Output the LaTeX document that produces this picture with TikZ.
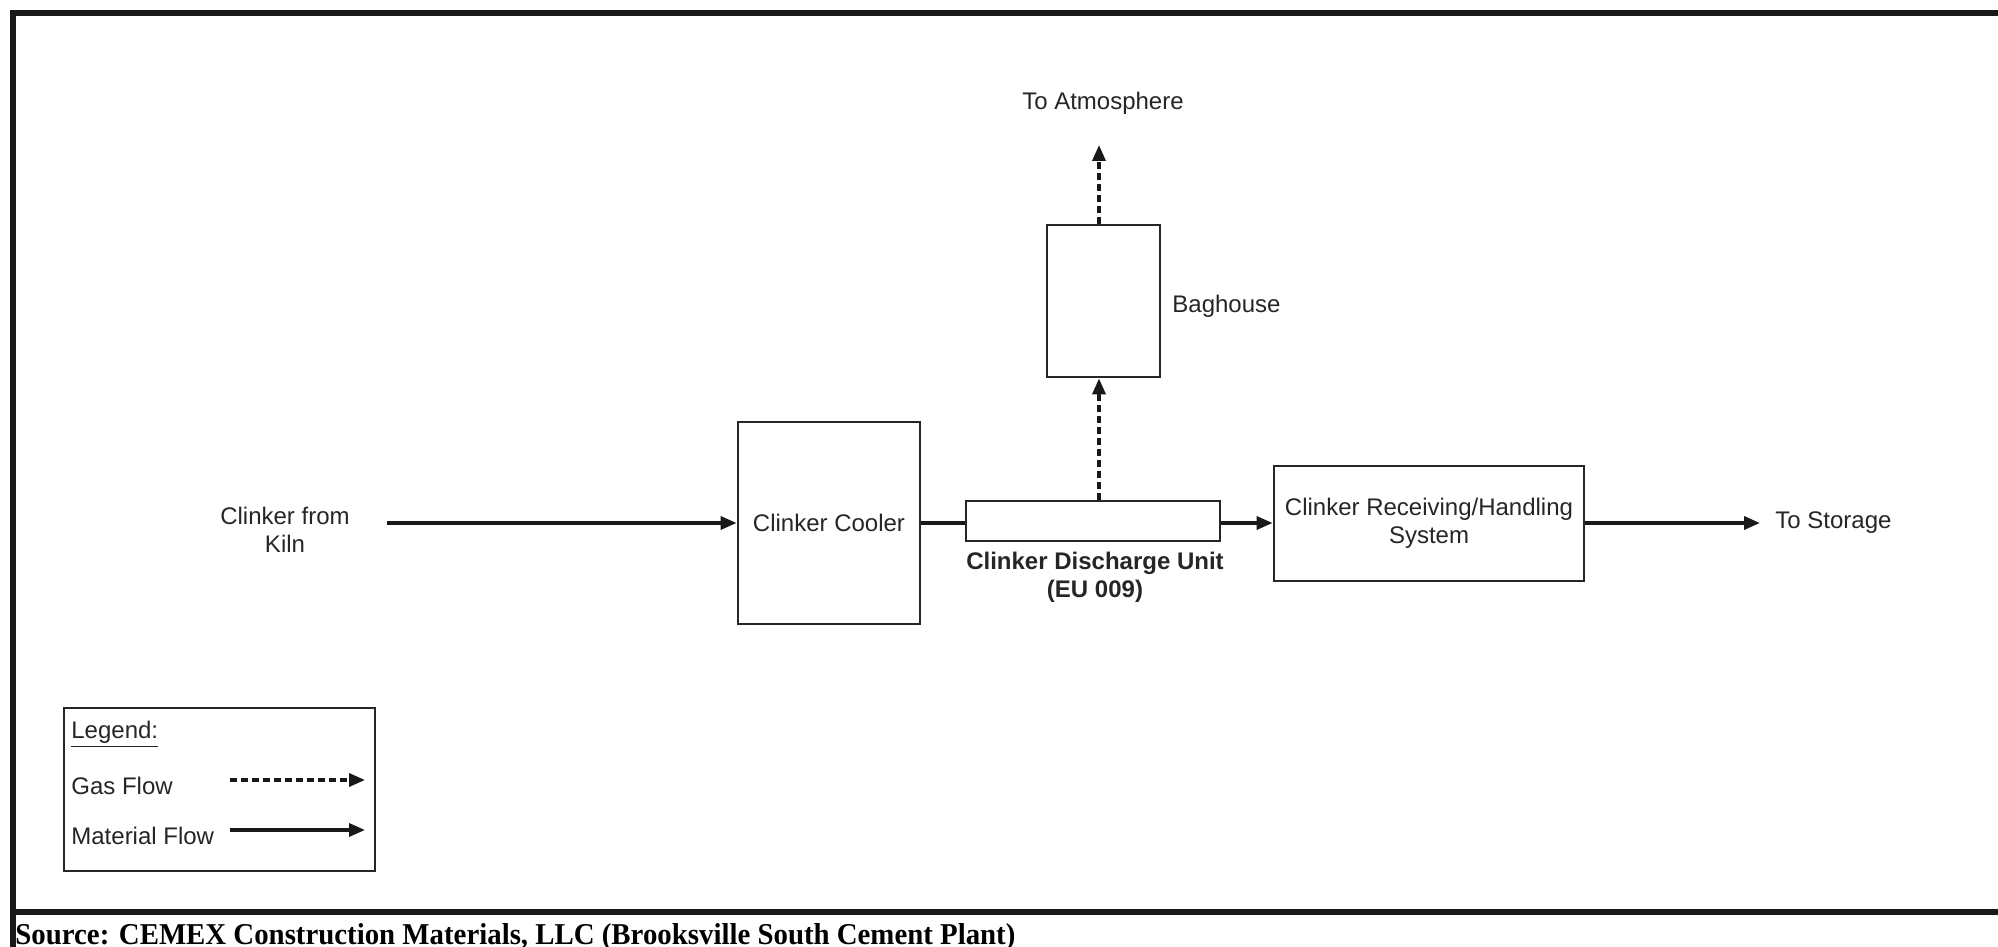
\documentclass[tikz,border=0pt]{standalone}
\usepackage{graphicx}
\usepackage{fontspec}
\setmainfont{Liberation Sans}
\newfontfamily\srcfont{Liberation Serif}
\usetikzlibrary{arrows.meta}

\begin{document}
\begin{tikzpicture}[x=0.5pt,y=-0.5pt,
  every node/.style={font=\fontsize{12}{14}\selectfont, text=black!85},
  txt/.style={inner sep=0pt, align=center},
  box/.style={draw=black!85, line width=1.4pt, inner sep=0pt, align=center},
  flow/.style={draw=black!90, line width=1.7pt, -{Triangle[length=8pt,width=6.5pt]}},
  gas/.style={flow, dash pattern=on 3.5pt off 2pt},
  plain/.style={draw=black!90, line width=1.7pt}]

\useasboundingbox (0,0) rectangle (1998,947);
\fill[white] (0,0) rectangle (1998,947);

% outer frame and source separator
\draw[line width=2.6pt, black!90] (13,980) -- (13,13) -- (2030,13);
\draw[line width=2.6pt, black!90] (13,912) -- (2030,912);

% process units
\node[box, minimum width=91pt, minimum height=101pt] (cooler) at (829,523) {Clinker Cooler};
\node[box, minimum width=127pt, minimum height=20pt] (disch) at (1093,521) {};
\node[box, minimum width=56.5pt, minimum height=76pt] (bag) at (1103.5,301) {};
\node[box, minimum width=155pt, minimum height=57.5pt] (recv) at (1429,523.5) {Clinker Receiving/Handling\\System};

% labels
\node[txt] (kiln) at (285,530) {Clinker from\\Kiln};
\node[txt, anchor=west, inner xsep=7.5pt] (storage) at (1760,523) {To Storage};
\node[txt] (atmo) at (1103,103) {To Atmosphere};
\node[txt, anchor=west] (baglbl) at (1172,306) {Baghouse};
\node[txt, font={\fontsize{12}{14}\selectfont\bfseries}] (disclbl) at (1095,577) {Clinker Discharge Unit\\(EU 009)};

% material flow
\coordinate (kilnout) at (387,523);
\draw[flow] (kilnout) -- (cooler.west |- kilnout);
\draw[plain] (cooler.east) -- (disch.west |- cooler.east);
\draw[flow] (disch.east |- cooler.east) -- (recv.west |- cooler.east);
\draw[flow] (recv.east |- storage.west) -- (storage.west);

% gas flow
\coordinate (gx) at (1099,0);
\coordinate (atmtip) at (1099,145);
\draw[gas] (disch.north -| gx) -- (bag.south -| gx);
\draw[gas] (bag.north -| gx) -- (atmtip);

% legend
\node[box, minimum width=155.5pt, minimum height=81.5pt] (legend) at (219.5,789.5) {};
\node[txt, anchor=west] (leghd) at (71,734) {\underline{Legend:}};
\node[txt, anchor=west] (gasl) at (71,786) {Gas Flow};
\node[txt, anchor=west] (matl) at (71,836) {Material Flow};
\coordinate (g1) at (230,780);
\coordinate (g2) at (365,780);
\coordinate (m1) at (230,830);
\coordinate (m2) at (365,830);
\draw[gas] (g1) -- (g2);
\draw[flow] (m1) -- (m2);

% source line
\node[anchor=base west, inner sep=0pt, text=black] (src) at (15,944)
  {\resizebox{500pt}{10.5pt}{\srcfont\bfseries Source: CEMEX Construction Materials, LLC (Brooksville South Cement Plant)}};

\end{tikzpicture}
\end{document}
